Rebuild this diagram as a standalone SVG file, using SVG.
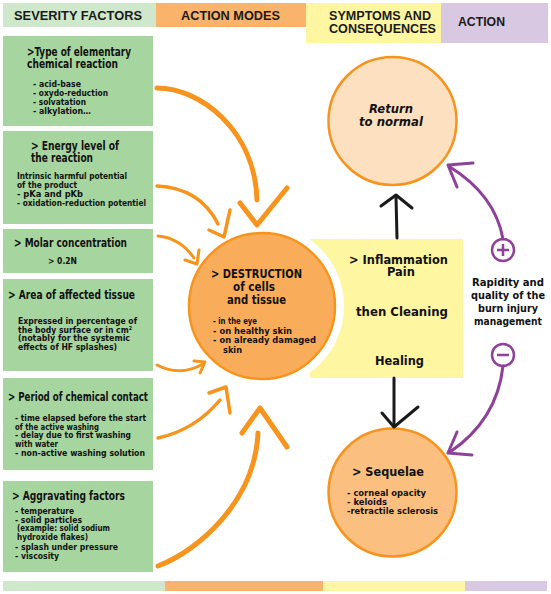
<svg xmlns="http://www.w3.org/2000/svg" width="551" height="594" viewBox="0 0 551 594">
<defs>
<style>
.bg{fill:#ffffff}
.gbox{fill:#a6d59f}
.hd{font-family:"Liberation Sans",Arial,sans-serif;font-weight:bold;font-size:13px;fill:#1a1a1a}
.ct{font-family:"Liberation Sans Narrow","DejaVu Sans Condensed","Liberation Sans",sans-serif;font-weight:bold;fill:#111}
.t13{font-size:11.5px}
.t9{font-size:8.6px}
.vt{font-family:"DejaVu Sans",Verdana,sans-serif;font-weight:bold;fill:#111}
.orng{fill:none;stroke:#f7941d;stroke-linecap:round;stroke-linejoin:round}
.blk{fill:none;stroke:#1a1a1a;stroke-width:3;stroke-linecap:round;stroke-linejoin:round}
.pur{fill:none;stroke:#8e4199;stroke-width:3;stroke-linecap:round;stroke-linejoin:round}
</style>
</defs>
<rect class="bg" x="0" y="0" width="551" height="594"/>

<g id="headers">
<rect x="3" y="3" width="153" height="24" fill="#cfe8cb"/>
<rect x="156" y="3" width="150" height="24" fill="#f9b36b"/>
<rect x="306" y="3" width="135" height="40" fill="#fff6a1"/>
<rect x="441" y="3" width="107" height="40" fill="#d9c8e2"/>
<text class="hd" x="14" y="20" textLength="128" lengthAdjust="spacingAndGlyphs">SEVERITY FACTORS</text>
<text class="hd" x="181" y="20" textLength="99" lengthAdjust="spacingAndGlyphs">ACTION MODES</text>
<text class="hd" x="329" y="20" textLength="102" lengthAdjust="spacingAndGlyphs">SYMPTOMS AND</text>
<text class="hd" x="329" y="33" textLength="107" lengthAdjust="spacingAndGlyphs">CONSEQUENCES</text>
<text class="hd" x="458" y="26" textLength="47" lengthAdjust="spacingAndGlyphs">ACTION</text>
</g>

<g id="footer">
<rect x="3" y="581" width="162" height="10" fill="#cfe8cb"/>
<rect x="165" y="581" width="158" height="10" fill="#f9b36b"/>
<rect x="323" y="581" width="142" height="10" fill="#fff6a1"/>
<rect x="465" y="581" width="82" height="10" fill="#d9c8e2"/>
</g>

<g id="factor-type">
<rect class="gbox" x="3" y="36" width="150" height="90"/>
<text class="ct t13" x="27" y="56" textLength="104" lengthAdjust="spacingAndGlyphs">&gt;Type of elementary</text>
<text class="ct t13" x="27" y="68" textLength="91" lengthAdjust="spacingAndGlyphs">chemical reaction</text>
<text class="ct t9" x="33" y="87" textLength="48" lengthAdjust="spacingAndGlyphs">- acid-base</text>
<text class="ct t9" x="33" y="96" textLength="75" lengthAdjust="spacingAndGlyphs">- oxydo-reduction</text>
<text class="ct t9" x="33" y="105" textLength="53" lengthAdjust="spacingAndGlyphs">- solvatation</text>
<text class="ct t9" x="33" y="114" textLength="58" lengthAdjust="spacingAndGlyphs">- alkylation…</text>
</g>

<g id="factor-energy">
<rect class="gbox" x="3" y="131" width="150" height="93"/>
<text class="ct t13" x="31" y="150" textLength="88" lengthAdjust="spacingAndGlyphs">&gt; Energy level of</text>
<text class="ct t13" x="31" y="162" textLength="62" lengthAdjust="spacingAndGlyphs">the reaction</text>
<text class="ct t9" x="17" y="179" textLength="110" lengthAdjust="spacingAndGlyphs">Intrinsic harmful potential</text>
<text class="ct t9" x="17" y="187.5" textLength="60" lengthAdjust="spacingAndGlyphs">of the product</text>
<text class="ct t9" x="17" y="196.5" textLength="66" lengthAdjust="spacingAndGlyphs">- pKa and pKb</text>
<text class="ct t9" x="17" y="205.5" textLength="129" lengthAdjust="spacingAndGlyphs">- oxidation-reduction potentiel</text>
</g>

<g id="factor-molar">
<rect class="gbox" x="3" y="229" width="150" height="44"/>
<text class="ct t13" x="14" y="247" textLength="113" lengthAdjust="spacingAndGlyphs">&gt; Molar concentration</text>
<text class="ct t9" x="48" y="264" textLength="29" lengthAdjust="spacingAndGlyphs">&gt; 0.2N</text>
</g>

<g id="factor-area">
<rect class="gbox" x="3" y="279" width="150" height="92"/>
<text class="ct t13" x="8" y="299" textLength="127" lengthAdjust="spacingAndGlyphs">&gt; Area of affected tissue</text>
<text class="ct t9" x="18" y="324" textLength="119" lengthAdjust="spacingAndGlyphs">Expressed in percentage of</text>
<text class="ct t9" x="18" y="332.5" textLength="114" lengthAdjust="spacingAndGlyphs">the body surface or in cm²</text>
<text class="ct t9" x="18" y="341" textLength="112" lengthAdjust="spacingAndGlyphs">(notably for the systemic</text>
<text class="ct t9" x="18" y="349.5" textLength="99" lengthAdjust="spacingAndGlyphs">effects of HF splashes)</text>
</g>

<g id="factor-period">
<rect class="gbox" x="3" y="378" width="150" height="92"/>
<text class="ct t13" x="8" y="401" textLength="140" lengthAdjust="spacingAndGlyphs">&gt; Period of chemical contact</text>
<text class="ct t9" x="15" y="421" textLength="131" lengthAdjust="spacingAndGlyphs">- time elapsed before the start</text>
<text class="ct t9" x="15" y="429.5" textLength="84" lengthAdjust="spacingAndGlyphs">of the active washing</text>
<text class="ct t9" x="15" y="438" textLength="116" lengthAdjust="spacingAndGlyphs">- delay due to first washing</text>
<text class="ct t9" x="15" y="446.5" textLength="43" lengthAdjust="spacingAndGlyphs">with water</text>
<text class="ct t9" x="15" y="455.5" textLength="130" lengthAdjust="spacingAndGlyphs">- non-active washing solution</text>
</g>

<g id="factor-aggravating">
<rect class="gbox" x="3" y="481" width="150" height="91"/>
<text class="ct t13" x="12" y="500" textLength="113" lengthAdjust="spacingAndGlyphs">&gt; Aggravating factors</text>
<text class="ct t9" x="15" y="514" textLength="59" lengthAdjust="spacingAndGlyphs">- temperature</text>
<text class="ct t9" x="15" y="522.5" textLength="67" lengthAdjust="spacingAndGlyphs">- solid particles</text>
<text class="ct t9" x="17" y="531" textLength="93" lengthAdjust="spacingAndGlyphs">(example: solid sodium</text>
<text class="ct t9" x="17" y="540" textLength="71" lengthAdjust="spacingAndGlyphs">hydroxide flakes)</text>
<text class="ct t9" x="15" y="549.5" textLength="103" lengthAdjust="spacingAndGlyphs">- splash under pressure</text>
<text class="ct t9" x="15" y="558.5" textLength="44" lengthAdjust="spacingAndGlyphs">- viscosity</text>
</g>

<g id="symptoms">
<rect x="310" y="239" width="153" height="139" fill="#fff6a1"/>
<text class="vt" font-size="11.5" x="349" y="264" textLength="99" lengthAdjust="spacingAndGlyphs">&gt; Inflammation</text>
<text class="vt" font-size="11.5" x="387" y="276" textLength="28" lengthAdjust="spacingAndGlyphs">Pain</text>
<text class="vt" font-size="12" x="356" y="316" textLength="92" lengthAdjust="spacingAndGlyphs">then Cleaning</text>
<text class="vt" font-size="12" x="375" y="365" textLength="49" lengthAdjust="spacingAndGlyphs">Healing</text>
</g>

<g id="destruction">
<circle cx="262" cy="306" r="82" fill="#ffffff"/>
<circle cx="262" cy="306" r="73" fill="#f9ad5b" stroke="#f7941d" stroke-width="2.5"/>
<text class="ct" font-size="11.5" x="211" y="278" textLength="91" lengthAdjust="spacingAndGlyphs">&gt; DESTRUCTION</text>
<text class="ct" font-size="11.5" x="233" y="291" textLength="42" lengthAdjust="spacingAndGlyphs">of cells</text>
<text class="ct" font-size="11.5" x="227" y="304" textLength="59" lengthAdjust="spacingAndGlyphs">and tissue</text>
<text class="ct t9" x="213" y="324" textLength="44" lengthAdjust="spacingAndGlyphs">- in the eye</text>
<text class="ct t9" x="213" y="334" textLength="79" lengthAdjust="spacingAndGlyphs">- on healthy skin</text>
<text class="ct t9" x="213" y="343" textLength="103" lengthAdjust="spacingAndGlyphs">- on already damaged</text>
<text class="ct t9" x="223" y="353" textLength="19" lengthAdjust="spacingAndGlyphs">skin</text>
</g>

<g id="return-normal">
<circle cx="392.5" cy="121" r="64" fill="#fde0c0" stroke="#f7941d" stroke-width="2.5"/>
<text class="vt" font-size="11.5" font-style="italic" x="369" y="113" textLength="44" lengthAdjust="spacingAndGlyphs">Return</text>
<text class="vt" font-size="11.5" font-style="italic" x="359" y="126" textLength="64" lengthAdjust="spacingAndGlyphs">to normal</text>
</g>

<g id="sequelae">
<circle cx="392.5" cy="492.5" r="64" fill="#fbbf80" stroke="#f7941d" stroke-width="2.5"/>
<text class="vt" font-size="12.5" x="352" y="476" textLength="72" lengthAdjust="spacingAndGlyphs">&gt; Sequelae</text>
<text class="ct t9" x="347" y="496" textLength="79" lengthAdjust="spacingAndGlyphs">- corneal opacity</text>
<text class="ct t9" x="347" y="504.5" textLength="40" lengthAdjust="spacingAndGlyphs">- keloids</text>
<text class="ct t9" x="347" y="514" textLength="91" lengthAdjust="spacingAndGlyphs">-retractile sclerosis</text>
</g>

<g id="action">
<circle cx="503" cy="250" r="11" fill="#ffffff" stroke="#8e4199" stroke-width="2.5"/>
<path d="M497 250 H509 M503 244 V256" stroke="#8e4199" stroke-width="2.5" fill="none"/>
<circle cx="503" cy="355" r="11" fill="#ffffff" stroke="#8e4199" stroke-width="2.5"/>
<path d="M497 355 H509" stroke="#8e4199" stroke-width="2.5" fill="none"/>
<text class="vt" font-size="10.5" x="508" y="286" text-anchor="middle" textLength="72" lengthAdjust="spacingAndGlyphs">Rapidity and</text>
<text class="vt" font-size="10.5" x="508" y="299" text-anchor="middle" textLength="74" lengthAdjust="spacingAndGlyphs">quality of the</text>
<text class="vt" font-size="10.5" x="508" y="312" text-anchor="middle" textLength="60" lengthAdjust="spacingAndGlyphs">burn injury</text>
<text class="vt" font-size="10.5" x="508" y="325" text-anchor="middle" textLength="68" lengthAdjust="spacingAndGlyphs">management</text>
</g>

<g id="connectors">
<path class="orng" stroke-width="5" d="M157 88 C200 88 255 130 257 200"/>
<path class="orng" stroke-width="5" d="M240 203 L257 225 L287 188"/>
<path class="orng" stroke-width="3.5" d="M157 186 Q200 188 218 224"/>
<path class="orng" stroke-width="3.5" d="M209 230 L224 237 L230 210"/>
<path class="orng" stroke-width="3" d="M158 236 Q180 238 194 258"/>
<path class="orng" stroke-width="3" d="M185 260 L197 264 L199 250"/>
<path class="orng" stroke-width="3" d="M157 365 Q180 377 203 364"/>
<path class="orng" stroke-width="3" d="M194 361 L205 362 L200 373"/>
<path class="orng" stroke-width="3.5" d="M158 438 Q195 430 220 400"/>
<path class="orng" stroke-width="3.5" d="M209 393 L226 387 L230 413"/>
<path class="orng" stroke-width="5" d="M158 566 C200 550 255 500 258 433"/>
<path class="orng" stroke-width="5" d="M242 433 L260 408 L287 447"/>
<path class="blk" d="M397 238 L396 197"/>
<path class="blk" d="M381 206 L396 195 L412 208"/>
<path class="blk" d="M394 378 L394 426"/>
<path class="blk" d="M382 413 L394 427 L418 407"/>
<path class="pur" d="M503 239 Q495 195 450 167"/>
<path class="pur" d="M473 163 L448 165 L457 187"/>
<path class="pur" d="M503 366 Q497 420 450 452"/>
<path class="pur" d="M457 432 L448 453 L472 455"/>
</g>
</svg>
